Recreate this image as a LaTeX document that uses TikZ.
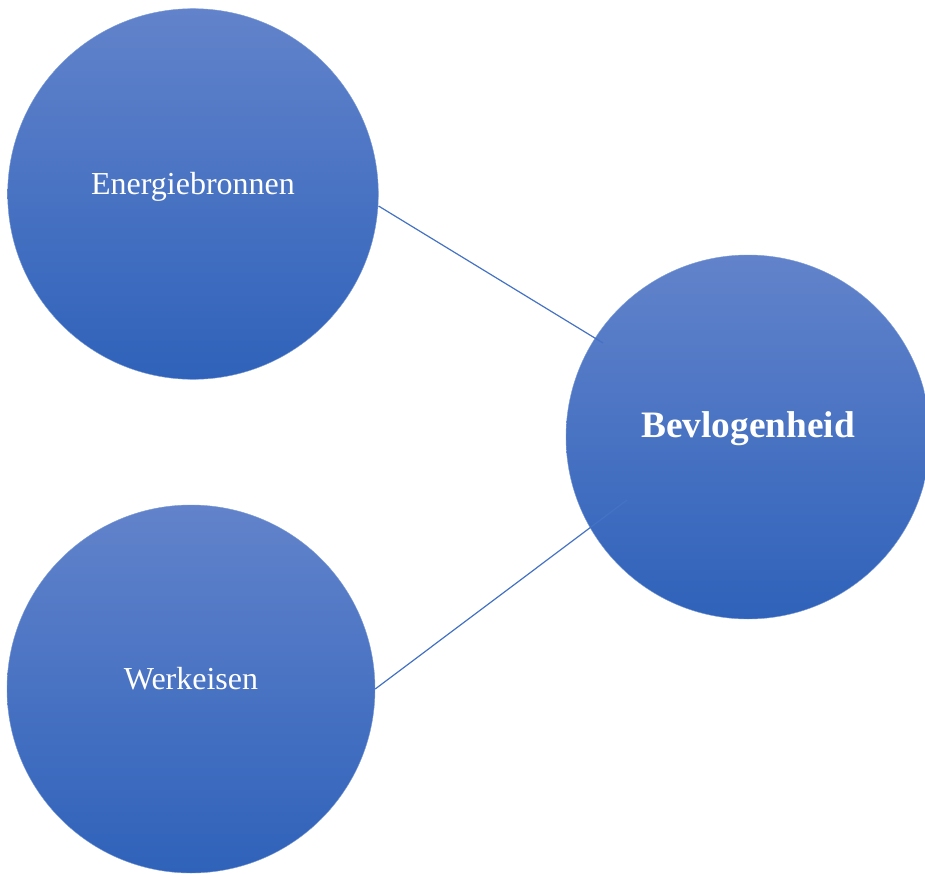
\documentclass[tikz,border=0pt]{standalone}
\usepackage{fontspec}
\setmainfont{Liberation Serif}
\usepackage{tikz}
\usetikzlibrary{positioning}

\definecolor{bubbletop}{HTML}{6283CB}
\definecolor{bubblebottom}{HTML}{2F62BA}
\definecolor{linkblue}{HTML}{4472C4}

\begin{document}
\begin{tikzpicture}[x=0.75pt, y=-0.75pt,
        bubble/.style={circle, top color=bubbletop, bottom color=bubblebottom, draw=linkblue!70, line width=0.3pt, text=white, font=\fontsize{24}{28}\selectfont, text height=0pt, text depth=0pt, inner sep=0pt},
        link/.style={draw=linkblue, line width=0.9pt}
    ]
    \useasboundingbox (0,0) rectangle (925,874);
    % Energiebronnen
    \node[bubble, minimum size=278pt] (ener) at (193,194) {Energiebronnen};
    % Werkeisen
    \node[bubble, minimum size=276pt] (werk) at (191,689) {Werkeisen};
    % Bevlogenheid
    \node[bubble, minimum size=273pt, font=\fontsize{28}{32}\selectfont\bfseries] (bevl) at (748,437) {Bevlogenheid};
    % Connections
    \coordinate (enerend) at (603,343);
    \coordinate (werkend) at (627,500);
    \draw[link] (ener.east) ++(0,12) coordinate (enerstart) -- (enerend);
    \draw[link] (werk.east) -- (werkend);
\end{tikzpicture}
\end{document}
